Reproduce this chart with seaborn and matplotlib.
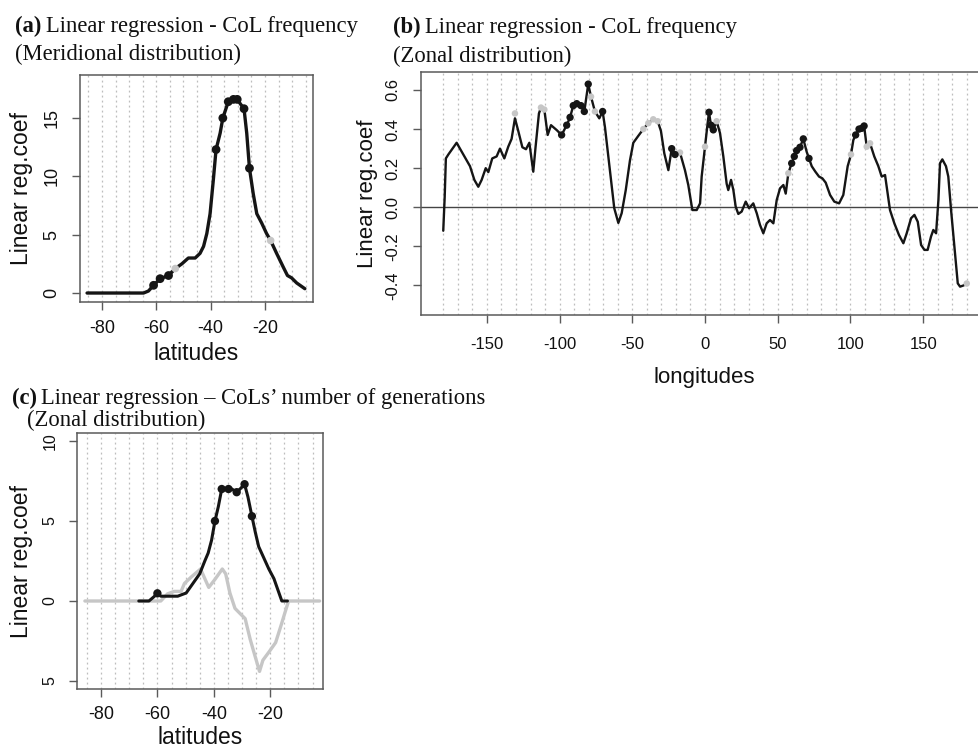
import numpy as np
import pandas as pd
import matplotlib
matplotlib.use("Agg")
import matplotlib.pyplot as plt
import seaborn as sns
from matplotlib import font_manager as fm

# ---------------- data ----------------
# (a) meridional distribution of CoL frequency regression coefficient
A_lat = [-85.5, -64.7, -62.9, -61.0, -58.6, -55.5, -53.0, -50.6, -48.2, -45.7, -43.9, -42.6,
         -41.4, -40.2, -39.0, -38.0, -36.5, -35.5, -33.5, -31.6, -30.2, -29.0, -27.7, -26.7,
         -25.7, -24.3, -23.0, -21.2, -19.4, -17.9, -15.7, -13.2, -11.7, -10.2, -8.3, -5.3]
A_val = [0, 0, 0.17, 0.66, 1.23, 1.5, 2.1, 2.5, 3.0, 3.0, 3.4, 4.0,
         5.1, 6.8, 9.7, 12.3, 13.7, 15.0, 16.4, 16.6, 16.6, 16.2, 15.8, 13.7,
         10.7, 8.5, 6.8, 6.0, 5.1, 4.5, 3.4, 2.2, 1.5, 1.3, 0.86, 0.37]
A_sig_lat = [-61.0, -58.6, -55.5, -38.0, -35.5, -33.5, -31.6, -30.2, -27.7, -25.7]
A_sig_val = [0.66, 1.23, 1.5, 12.3, 15.0, 16.4, 16.6, 16.6, 15.8, 10.7]
A_gry_lat = [-53.0, -17.9]
A_gry_val = [2.1, 4.5]

# (b) zonal distribution of CoL frequency regression coefficient
B_lon = [-180.0, -179.6, -179.0, -178.2, -176.5, -170.8, -166.2, -161.6, -158.6, -155.9, -153.6,
         -150.8, -149.0, -146.3, -143.3, -141.0, -138.0, -135.3, -133.0, -130.7, -128.4, -125.6,
         -123.1, -120.8, -118.1, -116.5, -114.2, -112.8, -110.5, -108.2, -105.9, -102.0, -98.6,
         -95.1, -92.8, -90.6, -88.2, -85.3, -83.0, -80.3, -78.4, -75.7, -72.7, -70.4, -68.8,
         -66.5, -64.2, -62.4, -59.6, -57.3, -54.5, -51.6, -49.3, -45.9, -42.4, -39.0, -35.6,
         -32.5, -30.3, -28.0, -25.2, -22.9, -20.6, -17.2, -13.8, -11.5, -8.7, -5.7, -3.4,
         -2.3, 0.0, 1.8, 2.75, 4.1, 5.7, 8.0, 10.3, 12.6, 14.9, 16.0, 17.9, 19.5, 21.1, 22.9,
         25.2, 28.0, 30.3, 33.2, 35.6, 37.8, 40.1, 42.4, 44.7, 47.0, 49.3, 51.6, 53.9, 55.5,
         57.3, 59.6, 61.4, 63.0, 65.3, 67.6, 69.9, 71.5, 73.4, 75.9, 78.4, 80.7, 83.0, 86.0,
         88.9, 92.2, 95.1, 98.1, 100.4, 102.0, 103.6, 105.9, 107.8, 109.4, 111.2, 113.5, 116.4,
         119.2, 121.5, 123.8, 125.6, 127.2, 130.2, 133.4, 136.4, 138.7, 141.7, 144.0, 146.3,
         148.6, 150.9, 153.1, 155.4, 157.0, 158.9, 160.5, 161.6, 163.2, 165.7, 167.3, 169.2,
         171.5, 173.8, 175.4, 177.7, 180.0]
B_val = [-0.12, -0.048, 0.054, 0.25, 0.27, 0.33, 0.27, 0.21, 0.14, 0.105, 0.14,
         0.20, 0.18, 0.25, 0.26, 0.30, 0.25, 0.31, 0.35, 0.455, 0.39, 0.307,
         0.297, 0.33, 0.182, 0.31, 0.48, 0.51, 0.50, 0.37, 0.42, 0.395, 0.37,
         0.42, 0.46, 0.52, 0.53, 0.52, 0.49, 0.63, 0.566, 0.49, 0.455, 0.49, 0.41,
         0.26, 0.105, -0.005, -0.08, -0.03, 0.088, 0.24, 0.33, 0.365, 0.40, 0.43, 0.45,
         0.44, 0.39, 0.276, 0.19, 0.30, 0.27, 0.28, 0.19, 0.114, -0.014, -0.014, 0.02,
         0.157, 0.31, 0.43, 0.486, 0.42, 0.396, 0.44, 0.38, 0.26, 0.12, 0.088, 0.14, 0.088, 0.003, -0.034,
         -0.022, 0.029, -0.005, 0.02, -0.031, -0.09, -0.133, -0.082, -0.065, -0.082, 0.037, 0.097, 0.114, 0.07,
         0.174, 0.225, 0.26, 0.29, 0.307, 0.35, 0.284, 0.25, 0.21, 0.182, 0.157, 0.148, 0.126, 0.063,
         0.029, 0.02, 0.063, 0.21, 0.27, 0.344, 0.37, 0.40, 0.404, 0.416, 0.31, 0.327, 0.26,
         0.21, 0.157, 0.165, 0.072, -0.014, -0.082, -0.142, -0.184, -0.133, -0.056, -0.039, -0.074,
         -0.193, -0.218, -0.218, -0.15, -0.116, -0.133, 0.037, 0.225, 0.245, 0.21, 0.157, -0.014,
         -0.20, -0.389, -0.406, -0.40, -0.39]
B_sig_lon = [-98.6, -95.1, -92.8, -90.6, -88.2, -85.3, -83.0, -80.3, -70.4, -22.9, -20.6,
             2.75, 4.1, 5.7, 59.6, 61.4, 63.0, 65.3, 67.6, 71.5, 103.6, 105.9, 107.8, 109.4]
B_sig_val = [0.37, 0.42, 0.46, 0.52, 0.53, 0.52, 0.49, 0.63, 0.49, 0.30, 0.27,
             0.486, 0.42, 0.396, 0.225, 0.26, 0.29, 0.307, 0.35, 0.25, 0.37, 0.40, 0.404, 0.416]
B_gry_lon = [-130.7, -112.8, -110.5, -78.4, -75.7, -42.4, -39.0, -35.6, -32.5, -17.2,
             0.0, 8.0, 57.3, 100.4, 111.2, 113.5, 180.0]
B_gry_val = [0.48, 0.51, 0.50, 0.566, 0.49, 0.40, 0.43, 0.45, 0.44, 0.28,
             0.31, 0.44, 0.174, 0.27, 0.31, 0.327, -0.39]

# (c) CoLs' number of generations
C_blk_lat = [-66.6, -63.0, -61.2, -60.0, -58.8, -56.4, -52.8, -49.8, -47.4, -45.0, -43.2, -42.0,
             -40.8, -39.6, -38.4, -37.2, -34.8, -33.6, -31.9, -30.7, -29.1, -27.9, -26.5, -25.3,
             -24.1, -22.3, -20.5, -18.7, -17.5, -15.9, -13.9]
C_blk_val = [0, 0, 0.27, 0.48, 0.3, 0.3, 0.3, 0.5, 1.1, 1.7, 2.5, 3.0,
             3.8, 5.0, 5.9, 7.0, 7.0, 7.0, 6.8, 7.0, 7.3, 6.5, 5.3, 4.3,
             3.4, 2.7, 2.0, 1.4, 0.8, 0, 0]
C_sig_lat = [-60.0, -39.6, -37.2, -34.8, -31.9, -29.1, -26.5]
C_sig_val = [0.48, 5.0, 7.0, 7.0, 6.8, 7.3, 5.3]
C_gry_lat = [-85.7, -58.8, -56.4, -54.0, -51.6, -50.4, -48.0, -44.7, -43.2, -41.8, -39.6, -37.0,
             -35.8, -34.3, -32.5, -31.0, -28.9, -27.1, -25.3, -23.8, -22.6, -20.5, -18.1, -16.3,
             -14.5, -13.5, -2.5]
C_gry_val = [0, 0, 0.45, 0.6, 0.6, 1.1, 1.5, 2.0, 1.4, 0.85, 1.35, 2.0,
             1.7, 0.5, -0.46, -0.73, -1.1, -2.4, -3.5, -4.4, -3.7, -3.2, -2.6, -1.6,
             -0.56, 0, 0]

A_xticks = [-80, -60, -40, -20]
A_yticks = [0, 5, 10, 15]
A_yticklabels = ["0", "5", "10", "15"]
B_xticks = [-150, -100, -50, 0, 50, 100, 150]
B_yticks = [-0.4, -0.2, 0.0, 0.2, 0.4, 0.6]
B_yticklabels = ["-0.4", "-0.2", "0.0", "0.2", "0.4", "0.6"]
C_xticks = [-80, -60, -40, -20]
C_yticks = [-5, 0, 5, 10]
C_yticklabels = ["5", "0", "5", "10"]

# ---------------- style ----------------
sns.set_style("white")
names = {f.name for f in fm.fontManager.ttflist}
SANS = "Liberation Sans" if "Liberation Sans" in names else "DejaVu Sans"
NARROW = "Liberation Sans Narrow" if "Liberation Sans Narrow" in names else SANS
SERIF = "Liberation Serif" if "Liberation Serif" in names else "DejaVu Serif"
plt.rcParams["font.family"] = [SANS, "DejaVu Sans"]

W, H = 979, 751
fig = plt.figure(figsize=(W / 100, H / 100), dpi=100)
fig.patch.set_facecolor("white")


def box(l, t, r, b):
    return [l / W, 1 - b / H, (r - l) / W, (b - t) / H]


axA = fig.add_axes(box(80, 75, 313, 302))
axB = fig.add_axes(box(421, 72, 988, 315))
axC = fig.add_axes(box(77, 433, 323, 689))

BLACK = "#151515"
GREY = "#c6c6c6"
GRIDC = "#bdbdbd"
FRAME = "#5a5a5a"


def style(ax, xticks, yticks, ylabels, grid, fam, tsize, lsize, xlabel, xlab_y, ylab_x, xpad, ypad,
          ytsize=None):
    for s in ax.spines.values():
        s.set_color(FRAME)
        s.set_linewidth(1.1)
    for g in grid:
        ax.axvline(g, color=GRIDC, lw=0.9, ls=(0, (1.5, 2.5)), zorder=0)
    ax.set_xticks(xticks)
    ax.set_xticklabels([str(v) for v in xticks], fontfamily=fam, fontsize=tsize)
    ax.set_yticks(yticks)
    ax.set_yticklabels(ylabels, rotation=90, va="center", fontfamily=fam,
                       fontsize=ytsize if ytsize else tsize)
    ax.tick_params(axis="both", direction="out", length=6, width=1.0, color=FRAME,
                   bottom=True, left=True, labelcolor="#111")
    ax.tick_params(axis="x", pad=xpad)
    ax.tick_params(axis="y", pad=ypad)
    ax.set_xlabel(xlabel, fontfamily=fam, fontsize=lsize, va="center", color="#111")
    ax.set_ylabel("Linear reg.coef", fontfamily=fam, fontsize=lsize, va="center", color="#111")
    ax.xaxis.set_label_coords(0.5, xlab_y)
    ax.yaxis.set_label_coords(ylab_x, 0.5)


# ---- panel (a)
sns.lineplot(x=A_lat, y=A_val, ax=axA, sort=False, estimator=None, color=BLACK, lw=2.4)
sns.scatterplot(x=A_gry_lat, y=A_gry_val, ax=axA, color=GREY, s=30, edgecolor="none", zorder=5)
sns.scatterplot(x=A_sig_lat, y=A_sig_val, ax=axA, color=BLACK, s=40, edgecolor="none", zorder=5)
axA.set_xlim(-88.1, -2.3)
axA.set_ylim(-0.77, 18.69)
style(axA, A_xticks, A_yticks, A_yticklabels, np.arange(-85, 0, 5), SANS, 13, 16.5,
      "latitudes", (302 - 354) / 227, (22 - 80) / 233, 7, 8)

# ---- panel (b)
axB.axhline(0, color="#444444", lw=1.0, zorder=1)
sns.lineplot(x=B_lon, y=B_val, ax=axB, sort=False, estimator=None, color=BLACK, lw=1.7)
sns.scatterplot(x=B_gry_lon, y=B_gry_val, ax=axB, color=GREY, s=22, edgecolor="none", zorder=5)
sns.scatterplot(x=B_sig_lon, y=B_sig_val, ax=axB, color=BLACK, s=28, edgecolor="none", zorder=5)
axB.set_xlim(-195.3, 194.6)
axB.set_ylim(-0.551, 0.692)
style(axB, B_xticks, B_yticks, B_yticklabels, np.arange(-180, 190, 10), NARROW, 12, 16,
      "longitudes", (315 - 378) / 243, (368 - 421) / 567, 10, 9)

# ---- panel (c)
sns.lineplot(x=C_gry_lat, y=C_gry_val, ax=axC, sort=False, estimator=None, color=GREY, lw=2.4)
sns.lineplot(x=C_blk_lat, y=C_blk_val, ax=axC, sort=False, estimator=None, color=BLACK, lw=2.2)
sns.scatterplot(x=C_sig_lat, y=C_sig_val, ax=axC, color=BLACK, s=36, edgecolor="none", zorder=5)
axC.set_xlim(-88.5, -1.3)
axC.set_ylim(-5.5, 10.5)
style(axC, C_xticks, C_yticks, C_yticklabels, np.arange(-85, 0, 5), SANS, 13, 16.5,
      "latitudes", (689 - 738) / 256, (22 - 77) / 246, 6, 8, ytsize=11.5)


# ---------------- titles ----------------
TSIZE = 16.3


def title(ax, x, y1, y2, tag, rest, line2, x2):
    t = fig.text(x / W, 1 - y1 / H, tag, fontfamily=SERIF, fontweight="bold",
                 fontsize=TSIZE, va="baseline", ha="left", color="#111")
    ax.annotate(rest, xy=(1, 0), xycoords=t, xytext=(3, 0), textcoords="offset points",
                fontfamily=SERIF, fontsize=TSIZE, va="bottom", ha="left",
                annotation_clip=False, color="#111")
    fig.text(x2 / W, 1 - y2 / H, line2, fontfamily=SERIF, fontsize=TSIZE,
             va="baseline", ha="left", color="#111")


title(axA, 15, 32, 60, "(a)", "Linear regression - CoL frequency", "(Meridional distribution)", 15)
title(axB, 393, 33, 62, "(b)", "Linear regression - CoL frequency", "(Zonal distribution)", 393)
title(axC, 12, 404, 426, "(c)", "Linear regression \u2013 CoLs\u2019 number of generations",
      "(Zonal distribution)", 27)

fig.savefig("out.png", dpi=100)
